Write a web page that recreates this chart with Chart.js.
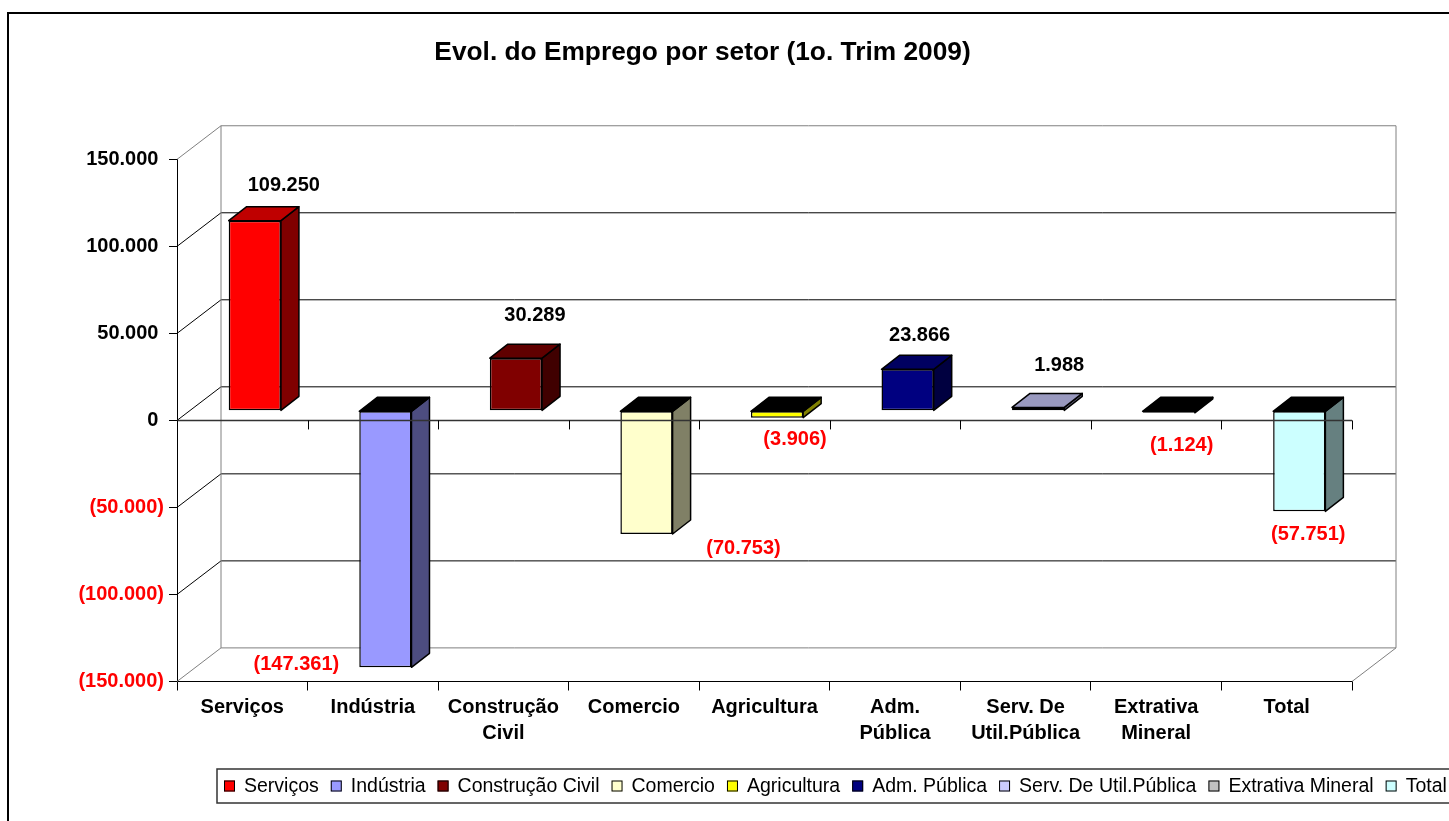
<!DOCTYPE html>
<html>
<head>
<meta charset="utf-8">
<title>Evol. do Emprego por setor</title>
<script src="https://cdn.jsdelivr.net/npm/chart.js@4.4.1/dist/chart.umd.min.js"></script>
<style>
  html, body { margin: 0; padding: 0; background: #fff; }
  #wrap { width: 1449px; height: 821px; position: relative; }
</style>
</head>
<body>
<div id="wrap"><canvas id="chart"></canvas></div>
<script>
const categories = ['Serviços', 'Indústria', 'Construção Civil', 'Comercio', 'Agricultura',
  'Adm. Pública', 'Serv. De Util.Pública', 'Extrativa Mineral', 'Total'];
const values = [109250, -147361, 30289, -70753, -3906, 23866, 1988, -1124, -57751];
const yTicks = [150000, 100000, 50000, 0, -50000, -100000, -150000];
const barColors = ['#FF0000', '#9999FF', '#800000', '#FFFFCC', '#FFFF00',
  '#000080', '#CCCCFF', '#C0C0C0', '#CCFFFF'];

// manual nudges of the value labels (pixels), like the moved labels in the sheet
const labelNudge = [[29, 0], [-89, -23], [19, -8], [97, -6], [18, 2], [12, 1], [21, -7], [13, 13], [9, 3]];

const FONT = "'Liberation Sans', Arial, sans-serif";
const WALL = { dx: 44, dy: -33.6 };     // depth of the back wall
const BAR_SHIFT = 0.285;                 // bars sit a bit behind the front plane
const BAR_DEPTH = { dx: 18, dy: -14 };
const GREY = '#808080';

function grp(n) {
  return String(n).replace(/\B(?=(\d{3})+(?!\d))/g, '.');
}
function fmt(v) {
  return v < 0 ? '(' + grp(-v) + ')' : grp(v) + ' ';
}
function shade(hex, f) {
  const n = parseInt(hex.slice(1), 16);
  const r = Math.round(((n >> 16) & 255) * f);
  const g = Math.round(((n >> 8) & 255) * f);
  const b = Math.round((n & 255) * f);
  return 'rgb(' + r + ',' + g + ',' + b + ')';
}

function line(ctx, x1, y1, x2, y2, color, w) {
  ctx.beginPath();
  ctx.moveTo(x1, y1);
  ctx.lineTo(x2, y2);
  ctx.strokeStyle = color;
  ctx.lineWidth = w || 1;
  ctx.stroke();
}
function poly(ctx, pts, fill) {
  ctx.beginPath();
  ctx.moveTo(pts[0][0], pts[0][1]);
  for (let i = 1; i < pts.length; i++) ctx.lineTo(pts[i][0], pts[i][1]);
  ctx.closePath();
  ctx.fillStyle = fill;
  ctx.fill();
  ctx.stroke();
}

const box3d = {
  id: 'box3d',
  beforeDraw(chart) {
    const ctx = chart.ctx;
    ctx.save();
    ctx.fillStyle = '#fff';
    ctx.fillRect(0, 0, chart.width, chart.height);
    ctx.strokeStyle = '#000';
    ctx.lineWidth = 2;
    ctx.strokeRect(8, 13, chart.width, chart.height);
    ctx.restore();
  },
  beforeDatasetsDraw(chart) {
    const ctx = chart.ctx, a = chart.chartArea, y = chart.scales.y;
    ctx.save();
    yTicks.forEach((v, i) => {
      const py = y.getPixelForValue(v);
      const c = (i === 0 || i === yTicks.length - 1) ? GREY : '#000';
      line(ctx, a.left + WALL.dx, py + WALL.dy, a.right + WALL.dx, py + WALL.dy, c);
      line(ctx, a.left, py, a.left + WALL.dx, py + WALL.dy, c);
    });
    const top = y.getPixelForValue(yTicks[0]);
    const bot = y.getPixelForValue(yTicks[yTicks.length - 1]);
    line(ctx, a.left + WALL.dx, top + WALL.dy, a.left + WALL.dx, bot + WALL.dy, GREY);
    line(ctx, a.right + WALL.dx, top + WALL.dy, a.right + WALL.dx, bot + WALL.dy, GREY);
    line(ctx, a.right, bot, a.right + WALL.dx, bot + WALL.dy, GREY);
    ctx.restore();
    // bars are drawn by Chart.js, pushed back into the box
    ctx.save();
    ctx.translate(WALL.dx * BAR_SHIFT, WALL.dy * BAR_SHIFT);
  },
  afterDatasetsDraw(chart) {
    const ctx = chart.ctx, a = chart.chartArea;
    const meta = chart.getDatasetMeta(0);
    ctx.lineWidth = 1.5;
    ctx.strokeStyle = '#000';
    ctx.lineJoin = 'round';
    meta.data.forEach((bar, i) => {
      const p = bar.getProps(['x', 'y', 'base', 'width'], true);
      const l = p.x - p.width / 2, r = p.x + p.width / 2;
      const t = Math.min(p.y, p.base), b = Math.max(p.y, p.base);
      const dx = BAR_DEPTH.dx, dy = BAR_DEPTH.dy;
      poly(ctx, [[r, t], [r + dx, t + dy], [r + dx, b + dy], [r, b]], shade(barColors[i], 0.5));
      poly(ctx, [[l, t], [l + dx, t + dy], [r + dx, t + dy], [r, t]],
        values[i] < 0 ? '#000' : shade(barColors[i], 0.75));
    });
    ctx.restore();

    // zero line of the front plane, drawn over the bars
    const x = chart.scales.x, y0 = chart.scales.y.getPixelForValue(0);
    ctx.save();
    line(ctx, a.left, y0, a.right, y0, '#333', 1.5);
    for (let i = 0; i <= categories.length; i++) {
      const px = Math.round(x.getPixelForValue(i - 0.5)) + 0.5;
      line(ctx, px, y0, px, y0 + 9, '#000', 1);
    }
    ctx.restore();
  },
  afterDraw(chart) {
    const ctx = chart.ctx;
    const sx = WALL.dx * BAR_SHIFT, sy = WALL.dy * BAR_SHIFT;
    ctx.save();
    ctx.font = 'bold 20px ' + FONT;
    ctx.textAlign = 'center';
    ctx.textBaseline = 'middle';
    chart.getDatasetMeta(0).data.forEach((bar, i) => {
      const p = bar.getProps(['x', 'y'], true);
      const v = values[i];
      const ly = v < 0 ? p.y + sy + 20 : p.y + sy - 35;
      ctx.fillStyle = v < 0 ? '#FF0000' : '#000';
      ctx.fillText(fmt(v).trim(), p.x + sx + labelNudge[i][0], ly + labelNudge[i][1]);
    });

    // legend box
    const lx = 217, ly = 769, lh = 34;
    ctx.font = '19.5px ' + FONT;
    ctx.textAlign = 'left';
    let cx = lx + 7;
    const items = categories.map((c, i) => {
      const it = { x: cx, c, i };
      cx += 11 + 9 + ctx.measureText(c).width + 12;
      return it;
    });
    ctx.strokeStyle = '#333';
    ctx.lineWidth = 1.5;
    ctx.strokeRect(lx, ly, cx - lx - 3, lh);
    items.forEach(it => {
      ctx.fillStyle = barColors[it.i];
      ctx.fillRect(it.x, ly + lh / 2 - 5.5, 11, 11);
      ctx.strokeStyle = '#000';
      ctx.lineWidth = 1;
      ctx.strokeRect(it.x + 0.5, ly + lh / 2 - 5, 10, 10);
      ctx.fillStyle = '#000';
      ctx.fillText(it.c, it.x + 20, ly + lh / 2 + 1);
    });
    ctx.restore();
  }
};

new Chart(document.getElementById('chart'), {
  type: 'bar',
  data: {
    labels: categories,
    datasets: [{
      data: values,
      backgroundColor: barColors,
      borderColor: '#000',
      borderWidth: 1.5,
      borderSkipped: false,
      barPercentage: 0.4,
      categoryPercentage: 1
    }]
  },
  options: {
    responsive: true,
    maintainAspectRatio: false,
    animation: false,
    events: [],
    layout: { padding: { top: 20, left: 53, right: 97, bottom: 59.5 } },
    plugins: {
      legend: { display: false },
      tooltip: { enabled: false },
      title: {
        display: true,
        text: 'Evol. do Emprego por setor (1o. Trim 2009)',
        color: '#000',
        font: { family: FONT, size: 26.3, weight: 'bold' },
        padding: { top: 17, bottom: 90.8 }
      }
    },
    scales: {
      x: {
        afterFit(s) { s.height = 80; },
        grid: { offset: true, drawOnChartArea: false, tickLength: 9, color: '#000' },
        border: { color: '#000', width: 1 },
        ticks: {
          color: '#000',
          font: { family: FONT, size: 20, weight: 'bold', lineHeight: 1.3 },
          padding: 4,
          maxRotation: 0,
          autoSkip: false,
          callback(v, i) {
            const c = categories[i];
            const k = c.lastIndexOf(' ');
            return k > 0 ? [c.slice(0, k), c.slice(k + 1)] : c;
          }
        }
      },
      y: {
        min: yTicks[yTicks.length - 1],
        max: yTicks[0],
        afterFit(s) { s.width = 124; },
        afterBuildTicks(s) { s.ticks = yTicks.map(v => ({ value: v })); },
        grid: { drawOnChartArea: false, tickLength: 8, color: '#000' },
        border: { color: '#000', width: 1 },
        ticks: {
          padding: 5,
          font: { family: FONT, size: 20, weight: 'bold' },
          color: c => (c.tick && c.tick.value < 0) ? '#FF0000' : '#000',
          callback: v => fmt(v)
        }
      }
    }
  },
  plugins: [box3d]
});
</script>
</body>
</html>
